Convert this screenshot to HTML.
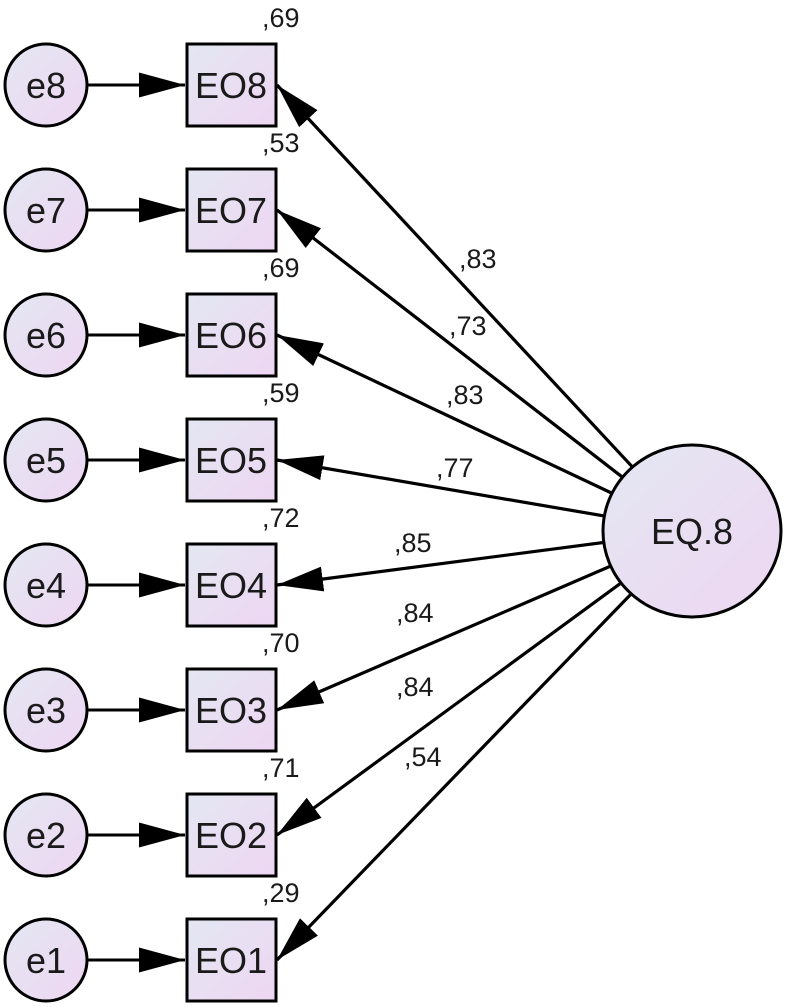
<!DOCTYPE html>
<html><head><meta charset="utf-8"><style>
html,body{margin:0;padding:0;background:#fff;}
svg{display:block;}
text{font-family:"Liberation Sans",Arial,sans-serif;fill:#1a1a1a;}
</style></head><body>
<svg width="787" height="1007" viewBox="0 0 787 1007" xmlns="http://www.w3.org/2000/svg">
<defs>
<linearGradient id="g" x1="0" y1="0" x2="1" y2="1">
<stop offset="0" stop-color="#e3e7f2"/><stop offset="1" stop-color="#eed6f2"/>
</linearGradient>
<marker id="a" viewBox="0 0 10 10" refX="10" refY="5" markerWidth="46" markerHeight="25" preserveAspectRatio="none" markerUnits="userSpaceOnUse" orient="auto">
<path d="M0,0 L10,5 L0,10 z" fill="#000"/>
</marker>
</defs>
<g stroke="#000" stroke-width="3.2" fill="none">
<line x1="692" y1="531" x2="277" y2="85" marker-end="url(#a)"/>
<line x1="692" y1="531" x2="277" y2="210" marker-end="url(#a)"/>
<line x1="692" y1="531" x2="277" y2="335" marker-end="url(#a)"/>
<line x1="692" y1="531" x2="277" y2="460" marker-end="url(#a)"/>
<line x1="692" y1="531" x2="277" y2="585" marker-end="url(#a)"/>
<line x1="692" y1="531" x2="277" y2="710" marker-end="url(#a)"/>
<line x1="692" y1="531" x2="277" y2="835" marker-end="url(#a)"/>
<line x1="692" y1="531" x2="277" y2="960" marker-end="url(#a)"/>
</g>
<g stroke="#000" stroke-width="3">
<g transform="translate(0,0)"><line x1="88" y1="85" x2="185" y2="85" marker-end="url(#a)"/><circle cx="46" cy="85" r="41" fill="url(#g)"/><rect x="187" y="44" width="89" height="82" fill="url(#g)"/></g>
<g transform="translate(0,125)"><line x1="88" y1="85" x2="185" y2="85" marker-end="url(#a)"/><circle cx="46" cy="85" r="41" fill="url(#g)"/><rect x="187" y="44" width="89" height="82" fill="url(#g)"/></g>
<g transform="translate(0,250)"><line x1="88" y1="85" x2="185" y2="85" marker-end="url(#a)"/><circle cx="46" cy="85" r="41" fill="url(#g)"/><rect x="187" y="44" width="89" height="82" fill="url(#g)"/></g>
<g transform="translate(0,375)"><line x1="88" y1="85" x2="185" y2="85" marker-end="url(#a)"/><circle cx="46" cy="85" r="41" fill="url(#g)"/><rect x="187" y="44" width="89" height="82" fill="url(#g)"/></g>
<g transform="translate(0,500)"><line x1="88" y1="85" x2="185" y2="85" marker-end="url(#a)"/><circle cx="46" cy="85" r="41" fill="url(#g)"/><rect x="187" y="44" width="89" height="82" fill="url(#g)"/></g>
<g transform="translate(0,625)"><line x1="88" y1="85" x2="185" y2="85" marker-end="url(#a)"/><circle cx="46" cy="85" r="41" fill="url(#g)"/><rect x="187" y="44" width="89" height="82" fill="url(#g)"/></g>
<g transform="translate(0,750)"><line x1="88" y1="85" x2="185" y2="85" marker-end="url(#a)"/><circle cx="46" cy="85" r="41" fill="url(#g)"/><rect x="187" y="44" width="89" height="82" fill="url(#g)"/></g>
<g transform="translate(0,875)"><line x1="88" y1="85" x2="185" y2="85" marker-end="url(#a)"/><circle cx="46" cy="85" r="41" fill="url(#g)"/><rect x="187" y="44" width="89" height="82" fill="url(#g)"/></g>
<ellipse cx="692" cy="531" rx="89" ry="86" fill="url(#g)"/>
</g>
<g font-size="36" text-anchor="middle">
<text x="46" y="98">e8</text><text x="231" y="98">EO8</text>
<text x="46" y="223">e7</text><text x="231" y="223">EO7</text>
<text x="46" y="348">e6</text><text x="231" y="348">EO6</text>
<text x="46" y="473">e5</text><text x="231" y="473">EO5</text>
<text x="46" y="598">e4</text><text x="231" y="598">EO4</text>
<text x="46" y="723">e3</text><text x="231" y="723">EO3</text>
<text x="46" y="848">e2</text><text x="231" y="848">EO2</text>
<text x="46" y="973">e1</text><text x="231" y="973">EO1</text>
<text x="692" y="544" font-size="36">EQ.8</text>
</g>
<g font-size="27">
<text x="262" y="27">,69</text>
<text x="262" y="152">,53</text>
<text x="262" y="277">,69</text>
<text x="262" y="402">,59</text>
<text x="262" y="527">,72</text>
<text x="262" y="652">,70</text>
<text x="262" y="777">,71</text>
<text x="262" y="902">,29</text>
<text x="459" y="268">,83</text>
<text x="449" y="335">,73</text>
<text x="446" y="404">,83</text>
<text x="436" y="477">,77</text>
<text x="394" y="552">,85</text>
<text x="396" y="622">,84</text>
<text x="396" y="696">,84</text>
<text x="404" y="766">,54</text>
</g>
</svg>
</body></html>
